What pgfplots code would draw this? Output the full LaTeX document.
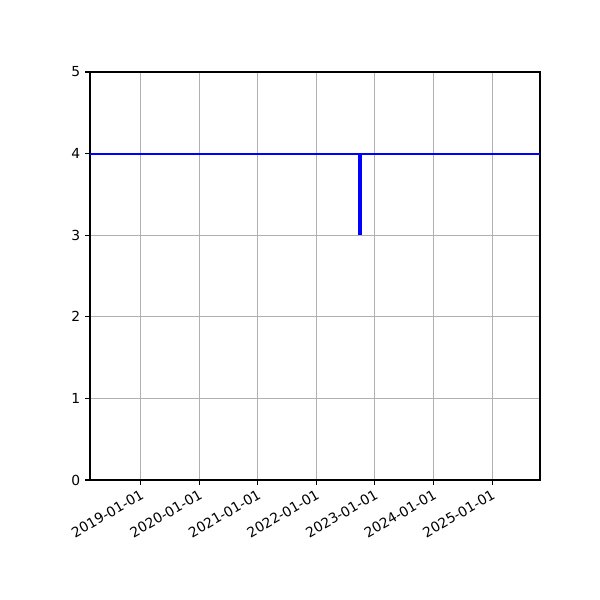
\documentclass[border=0pt]{standalone}
\usepackage{pgfplots}
\pgfplotsset{compat=1.18}
\usepackage{fontspec}
\setmainfont{DejaVu Sans}

\begin{document}
\fontsize{10}{12}\selectfont
\begin{tikzpicture}
  \path (0,0) rectangle (6in,6in);
  \begin{axis}[
    at={(0.9in,1.2in)}, anchor=south west,
    scale only axis,
    width=4.5in, height=4.08in,
    xmin=-316, xmax=2491,
    ymin=0, ymax=5,
    xtick={0,365,731,1096,1461,1826,2192},
    xticklabels={2019-01-01,2020-01-01,2021-01-01,2022-01-01,2023-01-01,2024-01-01,2025-01-01},
    ytick={0,1,2,3,4,5},
    xticklabel style={rotate=30, anchor=north east, inner sep=2pt},
    /pgf/number format/assume math mode=true,
    tick align=outside, tick pos=left,
    major tick length=3.5pt,
    tick style={black, line width=0.8pt},
    axis line style={line width=0.8pt},
    grid=major,
    grid style={color=black!31, line width=0.8pt},
  ]
    \addplot[blue, line width=1.5pt] coordinates {(-316,4) (2491,4)};
    \addplot[blue, line width=3.5pt] coordinates {(1368,3) (1368,4)};
  \end{axis}
\end{tikzpicture}
\end{document}
